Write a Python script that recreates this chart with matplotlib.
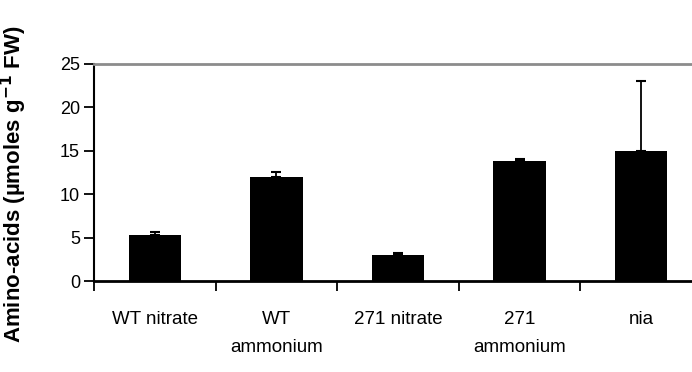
import matplotlib
matplotlib.use('Agg')
import matplotlib.pyplot as plt
import numpy as np

categories = ["WT nitrate", "WT\nammonium", "271 nitrate", "271\nammonium", "nia"]
values = [5.3, 12.0, 2.95, 13.85, 15.0]
errors = [0.4, 0.6, 0.25, 0.2, 8.0]
yticks = [0, 5, 10, 15, 20, 25]

plt.rcParams['font.family'] = ['Liberation Sans', 'DejaVu Sans']

fig = plt.figure(figsize=(6.92, 3.72), dpi=100)
ax = fig.add_axes([94 / 692, 1 - 281 / 372, 608 / 692, 217 / 372])

x = np.arange(len(categories))
ax.bar(x, values, width=0.43, color='black', zorder=2)
ax.errorbar(x, values, yerr=[np.zeros(len(errors)), errors], fmt='none',
            ecolor='black', elinewidth=1.3, capsize=3.8, capthick=1.5, zorder=3)

ax.set_xlim(-0.5, len(categories) - 0.5)
ax.set_ylim(0, 25)
ax.set_yticks(yticks)
ax.tick_params(axis='y', direction='out', length=7, width=1.3, labelsize=13, pad=3)

# boundary ticks between categories, labels drawn as text under the bars
ax.set_xticks(np.arange(len(categories) + 1) - 0.5)
ax.set_xticklabels([])
ax.tick_params(axis='x', direction='out', length=7, width=1.3)
for xi, name in zip(x, categories):
    ax.text(xi, -0.137, name, transform=ax.get_xaxis_transform(),
            ha='center', va='top', fontsize=13.5, linespacing=1.85)

ax.spines['right'].set_visible(False)
ax.spines['top'].set_color('#8c8c8c')
ax.spines['top'].set_linewidth(2)
ax.spines['left'].set_linewidth(1.5)
ax.spines['bottom'].set_linewidth(2)

fig.text(0.02, 0.505, "Amino-acids (µmoles g$^{\\mathbf{-1}}$ FW)", rotation=90,
         ha='center', va='center', fontsize=16, fontweight='bold')

fig.savefig("out.png", dpi=100)
